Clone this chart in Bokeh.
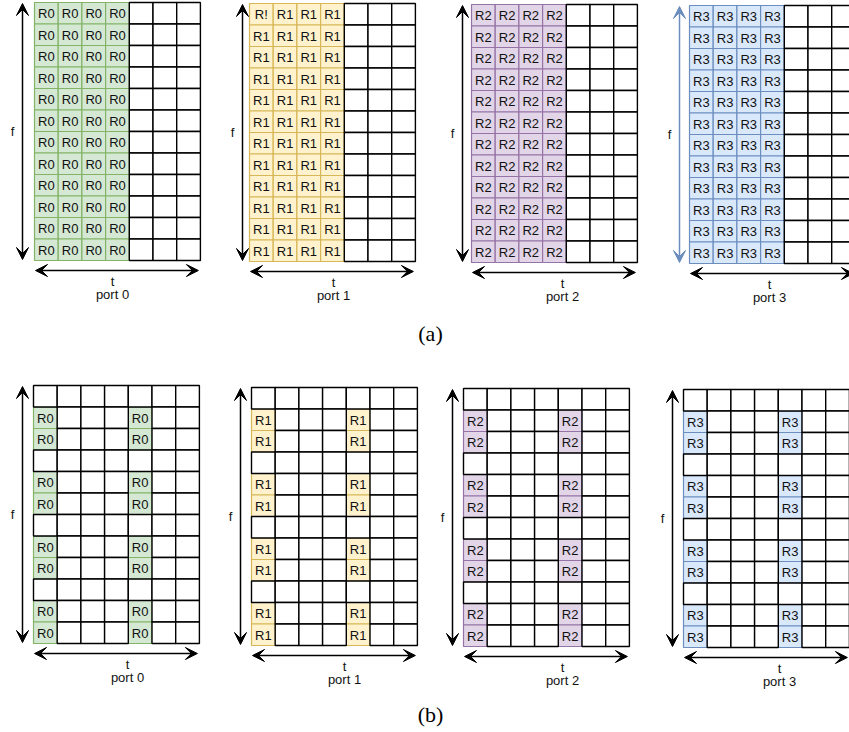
from bokeh.plotting import figure
from bokeh.models import Arrow, VeeHead, Range1d
from bokeh.core.properties import value
from bokeh.embed import file_html
from bokeh.resources import INLINE

# ---------------- data ----------------
port_names = ["port 0", "port 1", "port 2", "port 3"]
signal_labels = ["R0", "R1", "R2", "R3"]
n_cols = 7          # time symbols
n_rows = 12         # subcarriers
# (a): every subcarrier of the first four symbols
a_cols = [0, 1, 2, 3]
a_rows = list(range(12))
# (b): comb pattern
b_cols = [0, 4]
b_rows = [1, 2, 4, 5, 7, 8, 10, 11]
# the reference shows a typo in the first cell of port 1 (a)
a_typo = {(1, 0, 0): "R!"}
panel_tags = ["(a)", "(b)"]

fill_colors = ["#d5e8d4", "#fff2cc", "#e1d5e7", "#dae8fc"]
line_colors = ["#82b366", "#d6b656", "#9673a6", "#6c8ebf"]

# ---------------- layout (pixels) ----------------
CW, CH = 23.7, 21.5
origins_a = [(34, 2), (249, 3), (471, 4), (689, 5)]
origins_b = [(33, 385), (251, 387), (463, 388), (683, 389)]
farrow_x_a = [22, 242, 462, 679]
farrow_x_b = [22, 240, 452, 672]
label_x_a = [112, 333, 562, 769]
label_x_b = [127, 344, 562, 779]
farrow_color_a = ["black", "black", "black", "#6c8ebf"]
tag_pos = [(430, 333), (430, 714)]

W, H = 849, 732
p = figure(width=W, height=H, output_backend="svg", toolbar_location=None,
           x_range=Range1d(0, W), y_range=Range1d(H, 0), min_border=0)
p.axis.visible = False
p.grid.visible = False
p.outline_line_color = None
p.background_fill_color = "white"

FONT = value("Liberation Sans")


def draw_panel(k, origin, cols, rows, farrow_x, label_x, farrow_color, typo):
    x0, y0 = origin
    colored = set((r, c) for r in rows for c in cols)
    cl, cr, ct, cb, tx, ty, tt = [], [], [], [], [], [], []
    wl, wr, wt, wb = [], [], [], []
    for r in range(n_rows):
        for c in range(n_cols):
            L = x0 + c * CW
            T = y0 + r * CH
            if (r, c) in colored:
                cl.append(L); cr.append(L + CW); ct.append(T); cb.append(T + CH)
                tx.append(L + CW / 2); ty.append(T + CH / 2 + 0.5)
                tt.append(typo.get((k, r, c), signal_labels[k]))
            else:
                wl.append(L); wr.append(L + CW); wt.append(T); wb.append(T + CH)
    p.quad(left=cl, right=cr, top=ct, bottom=cb, fill_color=fill_colors[k],
           line_color=line_colors[k], line_width=1.2)
    p.quad(left=wl, right=wr, top=wt, bottom=wb, fill_color="white",
           line_color="black", line_width=1.4)
    p.text(x=tx, y=ty, text=tt, text_align="center", text_baseline="middle",
           text_font=FONT, text_font_size="13px", text_color="#111111")
    bottom = y0 + n_rows * CH
    # f arrow
    p.add_layout(Arrow(x_start=farrow_x, y_start=y0 + 1, x_end=farrow_x, y_end=bottom - 1,
                       line_color=farrow_color, line_width=1.5,
                       start=VeeHead(size=12, fill_color=farrow_color, line_color=farrow_color),
                       end=VeeHead(size=12, fill_color=farrow_color, line_color=farrow_color)))
    p.text(x=[farrow_x - 10], y=[(y0 + bottom) / 2], text=["f"], text_align="center",
           text_baseline="middle", text_font=FONT, text_font_size="13px", text_color="#111111")
    # t arrow
    p.add_layout(Arrow(x_start=x0 + 1, y_start=bottom + 10, x_end=x0 + n_cols * CW - 2, y_end=bottom + 10,
                       line_color="black", line_width=1.5,
                       start=VeeHead(size=12, fill_color="black"),
                       end=VeeHead(size=12, fill_color="black")))
    p.text(x=[label_x, label_x], y=[bottom + 21, bottom + 34], text=["t", port_names[k]],
           text_align="center", text_baseline="middle", text_font=FONT,
           text_font_size="13px", text_color="#111111")


for k in range(4):
    draw_panel(k, origins_a[k], a_cols, a_rows, farrow_x_a[k], label_x_a[k], farrow_color_a[k], a_typo)
for k in range(4):
    draw_panel(k, origins_b[k], b_cols, b_rows, farrow_x_b[k], label_x_b[k], "black", {})

p.text(x=[tag_pos[0][0], tag_pos[1][0]], y=[tag_pos[0][1], tag_pos[1][1]], text=panel_tags,
       text_align="center", text_baseline="middle", text_font=value("Liberation Serif"),
       text_font_size="22px", text_color="black")

open("out.html", "w").write(file_html(p, INLINE))
